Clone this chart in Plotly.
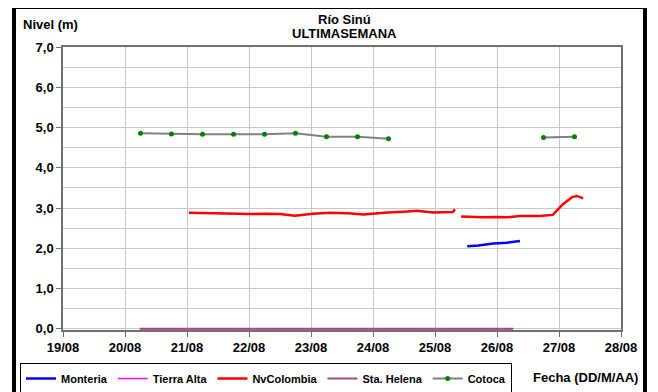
import plotly.graph_objects as go
from datetime import datetime, timedelta

BASE = datetime(2015, 8, 19)

def d(v):
    return BASE + timedelta(days=v - 19)

# Data (x as day-of-August with fractional days)
monteria_x = [25.52, 25.7, 25.94, 26.16, 26.37]
monteria_y = [2.05, 2.07, 2.12, 2.14, 2.18]

tierra_x = [20.24, 26.26]
tierra_y = [0.0, 0.0]

sta_x = [20.24, 26.26]
sta_y = [0.0, 0.0]

nv1_x = [21.03, 21.3, 21.53, 21.8, 22.02, 22.25, 22.5, 22.74, 23.03, 23.31, 23.6, 23.84,
         24.05, 24.23, 24.5, 24.71, 24.97, 25.24, 25.29, 25.32]
nv1_y = [2.88, 2.87, 2.87, 2.86, 2.85, 2.86, 2.85, 2.81, 2.86, 2.88, 2.87, 2.84,
         2.87, 2.89, 2.91, 2.93, 2.89, 2.89, 2.90, 2.97]
nv2_x = [25.42, 25.6, 25.77, 26.0, 26.16, 26.37, 26.55, 26.69, 26.9, 27.06, 27.21, 27.29, 27.39]
nv2_y = [2.79, 2.78, 2.77, 2.78, 2.77, 2.80, 2.80, 2.80, 2.83, 3.09, 3.27, 3.30, 3.24]

cot_x = [20.25, 20.75, 21.25, 21.75, 22.25, 22.75, 23.25, 23.75, 24.25, 26.75, 27.25]
cot_y = [4.86, 4.84, 4.83, 4.83, 4.83, 4.86, 4.77, 4.77, 4.72, 4.75, 4.77]

nv_x = nv1_x + [None] + nv2_x
nv_y = nv1_y + [None] + nv2_y
cot_xs = cot_x[:9] + [None] + cot_x[9:]
cot_ys = cot_y[:9] + [None] + cot_y[9:]

def conv(xs):
    return [None if v is None else d(v) for v in xs]

FONT = "Liberation Sans, Arial, sans-serif"

fig = go.Figure()
fig.add_trace(go.Scatter(x=conv(monteria_x), y=monteria_y, name="Monteria", mode="lines",
                         line=dict(color="#0000FF", width=2.5)))
fig.add_trace(go.Scatter(x=conv(tierra_x), y=tierra_y, name="Tierra Alta", mode="lines",
                         line=dict(color="#FF00FF", width=1.5), cliponaxis=False))
fig.add_trace(go.Scatter(x=conv(nv_x), y=nv_y, name="NvColombia", mode="lines",
                         line=dict(color="#FF0000", width=2.5), connectgaps=False))
fig.add_trace(go.Scatter(x=conv(sta_x), y=sta_y, name="Sta. Helena", mode="lines",
                         line=dict(color="#A04C78", width=2), cliponaxis=False))
fig.add_trace(go.Scatter(x=conv(cot_xs), y=cot_ys, name="Cotoca", mode="lines+markers",
                         line=dict(color="#808080", width=2),
                         marker=dict(color="#008000", size=5), connectgaps=False))

# page body has an 8px margin, so the figure is laid out 8px smaller/shifted
OFF = 8
W, H = 658 - OFF, 392 - OFF
L, T = 63 - OFF, 47 - OFF
pw, ph = 558, 283
R, B = W - L - pw, H - T - ph

def px(x):  # screen pixel -> paper
    return (x - OFF - L) / pw

def py(y):
    return (H - B - (y - OFF)) / ph

fig.update_layout(
    width=W, height=H,
    margin=dict(l=L, r=R, t=T, b=B, autoexpand=False),
    paper_bgcolor="white", plot_bgcolor="white",
    separators=",.",
    font=dict(family=FONT, size=11, color="black", weight="bold"),
    showlegend=True,
    legend=dict(orientation="h", x=px(20), y=py(363), xanchor="left", yanchor="top",
                bordercolor="black", borderwidth=1, bgcolor="white",
                font=dict(size=11, family=FONT, weight="bold"),
                itemwidth=30, tracegroupgap=0),
    xaxis=dict(type="date", range=[d(19), d(28)], dtick=86400000, tick0=d(19),
               tickformat="%d/%m", showgrid=True, gridcolor="#C8C8C8", gridwidth=1,
               showline=True, linecolor="#707070", linewidth=1.5, mirror=True,
               ticks="outside", ticklen=5, tickcolor="#707070", layer="below traces",
               tickfont=dict(size=13, family=FONT, weight="bold"), zeroline=False),
    yaxis=dict(range=[-0.03, 7], tick0=0, dtick=1, tickformat=".1f", showgrid=True,
               gridcolor="#C8C8C8", gridwidth=1,
               minor=dict(tick0=0, dtick=0.5, showgrid=True, gridcolor="#C8C8C8", gridwidth=1),
               showline=True, linecolor="#707070", linewidth=1.5, mirror=True,
               ticks="outside", ticklen=5, tickcolor="#707070", layer="below traces",
               tickfont=dict(size=13, family=FONT, weight="bold"), zeroline=False),
    annotations=[
        dict(text="Nivel (m)", xref="paper", yref="paper", x=px(21), y=py(25),
             xanchor="left", yanchor="middle", showarrow=False,
             font=dict(size=13, family=FONT, weight="bold")),
        dict(text="Río Sinú", xref="paper", yref="paper", x=px(344), y=py(20),
             xanchor="center", yanchor="middle", showarrow=False,
             font=dict(size=13, family=FONT, weight="bold")),
        dict(text="ULTIMASEMANA", xref="paper", yref="paper", x=px(344), y=py(33),
             xanchor="center", yanchor="middle", showarrow=False,
             font=dict(size=13, family=FONT, weight="bold")),
        dict(text="Fecha (DD/M/AA)", xref="paper", yref="paper", x=px(531), y=py(377),
             xanchor="left", yanchor="middle", showarrow=False,
             font=dict(size=13, family=FONT, weight="bold")),
    ],
    shapes=[
        dict(type="rect", xref="paper", yref="paper",
             x0=px(14), x1=px(645), y0=py(398), y1=py(7),
             line=dict(color="black", width=4), fillcolor="rgba(0,0,0,0)", layer="above"),
    ],
)

fig.write_html("out.html")
